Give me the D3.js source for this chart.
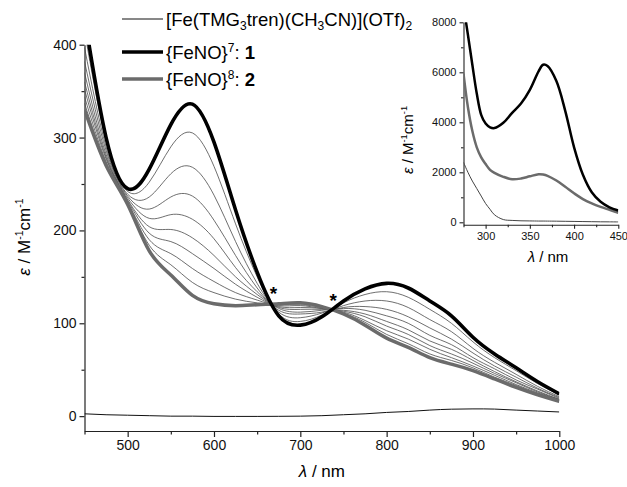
<!DOCTYPE html>
<html>
<head>
<meta charset="utf-8">
<script src="https://cdn.jsdelivr.net/npm/d3@7"></script>
<style>
  body { margin: 0; background: #fff; }
  svg { font-family: "Liberation Sans", Arial, sans-serif; }
</style>
</head>
<body>
<div id="chart"></div>
<script>
// Main spectra (wavelength grid, nm)
const nm = [450, 475, 500, 525, 550, 575, 600, 625, 650, 675, 700, 725, 750, 775, 800, 825, 850, 875, 900, 925, 950, 975, 1000];

// {FeNO}7 : 1
const complex1 = [430, 300, 245, 266, 314, 336, 295, 222, 155, 108, 98, 107, 124, 137, 143, 138, 124, 108, 85, 67, 52, 37, 24];
// {FeNO}8 : 2
const complex2 = [330, 270, 228, 178, 152, 130, 121, 119, 120, 121, 122, 118, 110, 98, 84, 74, 63, 56, 49, 40, 31, 23, 16];
// [Fe(TMG3tren)(CH3CN)](OTf)2
const precursor = [2.5, 1.5, 1, 0.5, 0, 0, -0.3, -0.3, -0.3, -0.2, 0, 0.5, 1.5, 2.5, 4, 5, 6.5, 7.5, 7.8, 7.6, 6.5, 5.5, 4.5];

// intermediate spectra during the reduction
const mid1 = [415, 296, 242, 252, 290, 305, 269, 207, 150, 110, 102, 109, 122, 131, 134, 128, 115, 100, 80, 63, 49, 35, 23];
const mid2 = [397, 290, 239, 236, 261, 268, 238, 188, 143, 112, 106, 111, 119, 124, 124, 117, 104, 91, 73, 58, 45, 32, 21];
const mid3 = [382, 286, 237, 223, 236, 237, 211, 173, 138, 114, 110, 112, 117, 118, 115, 107, 95, 83, 68, 54, 42, 30, 20];
const mid4 = [370, 282, 235, 213, 217, 212, 191, 160, 134, 116, 112, 114, 116, 114, 108, 100, 87, 77, 63, 51, 39, 29, 19];
const mid5 = [360, 279, 233, 204, 201, 192, 173, 150, 131, 117, 115, 115, 114, 110, 102, 93, 81, 72, 60, 48, 37, 27, 18];
const mid6 = [352, 277, 232, 197, 188, 175, 159, 142, 128, 118, 117, 116, 113, 107, 97, 88, 76, 67, 57, 46, 36, 26, 18];
const mid7 = [344, 274, 230, 190, 175, 159, 145, 133, 125, 119, 119, 116, 112, 103, 92, 83, 72, 63, 54, 44, 34, 25, 17];
const mid8 = [337, 272, 229, 184, 163, 144, 133, 126, 122, 120, 120, 117, 111, 101, 88, 78, 67, 60, 52, 42, 33, 24, 17];
const intermediates = [mid1, mid2, mid3, mid4, mid5, mid6, mid7, mid8];

// Inset spectra (UV region)
const nmInset = [275, 280, 285, 290, 295, 300, 305, 310, 320, 330, 340, 350, 360, 365, 370, 380, 390, 400, 410, 420, 430, 440, 450];
const inset1 = [8650, 7500, 6300, 5150, 4300, 3950, 3800, 3770, 3980, 4380, 4750, 5300, 6050, 6300, 6250, 5650, 4460, 3000, 1900, 1200, 820, 600, 470];
const inset2 = [5950, 4600, 3650, 3000, 2600, 2330, 2100, 1980, 1820, 1720, 1750, 1840, 1920, 1910, 1860, 1670, 1420, 1160, 930, 760, 620, 500, 380];
const insetPre = [2400, 2000, 1650, 1350, 1050, 750, 520, 300, 110, 75, 60, 55, 50, 50, 48, 45, 40, 35, 30, 25, 20, 18, 15];

// ticks
const xTicks = [500, 600, 700, 800, 900, 1000];
const xMinor = [450, 550, 650, 750, 850, 950];
const yTicks = [0, 100, 200, 300, 400];
const yMinor = [50, 150, 250, 350];
const xTicksInset = [300, 350, 400, 450];
const xMinorInset = [275, 325, 375, 425];
const yTicksInset = [0, 2000, 4000, 6000, 8000];
const yMinorInset = [1000, 3000, 5000, 7000];

// isosbestic point markers
const stars = [[669, 125], [738, 118]];

let width = 627, height = 487;

let svg = d3.select("#chart")
    .append('svg')
    .attr('width', width)
    .attr('height', height);

// Main scales
let x = d3.scaleLinear().domain([450, 1000]).range([84.5, 559.3]);
let y = d3.scaleLinear().domain([-16, 400]).range([431, 44.7]);

svg.append('clipPath').attr('id', 'clipMain')
    .append('rect')
    .attr('x', x(450)).attr('y', y(400))
    .attr('width', x(1000) - x(450)).attr('height', y(-16) - y(400));

// Axes
svg.append('g')
    .attr('transform', `translate(0,${y(-16)})`)
    .call(d3.axisBottom(x).tickValues(xTicks).tickSize(6).tickSizeOuter(0).tickFormat(d3.format('d')));
svg.append('g')
    .attr('transform', `translate(0,${y(-16)})`)
    .call(d3.axisBottom(x).tickValues(xMinor).tickSize(3.5).tickFormat(''))
    .select('.domain').remove();

svg.append('g')
    .attr('transform', `translate(${x(450)},0)`)
    .call(d3.axisLeft(y).tickValues(yTicks).tickSize(5).tickSizeOuter(0).tickFormat(d3.format('d')));
svg.append('g')
    .attr('transform', `translate(${x(450)},0)`)
    .call(d3.axisLeft(y).tickValues(yMinor).tickSize(3).tickFormat(''))
    .select('.domain').remove();

svg.selectAll('.tick text')
    .attr('font-size', 14)
    .attr('font-family', '"Liberation Sans", Arial, sans-serif')
    .attr('fill', '#111');
svg.selectAll('.domain, .tick line').attr('stroke', '#222').attr('stroke-width', 1.2);

// Axis labels
let xLabel = svg.append('text')
    .attr('x', (x(450) + x(1000)) / 2)
    .attr('y', 477)
    .attr('text-anchor', 'middle')
    .attr('font-size', 17);
xLabel.append('tspan').attr('font-style', 'italic').text('λ');
xLabel.append('tspan').text(' / nm');

function epsLabel(g, size) {
    g.append('tspan').attr('font-style', 'italic').text('ε');
    g.append('tspan').text(' / M');
    g.append('tspan').attr('dy', -size * 0.4).attr('font-size', size * 0.62).text('-1');
    g.append('tspan').attr('dy', size * 0.4).text('cm');
    g.append('tspan').attr('dy', -size * 0.4).attr('font-size', size * 0.62).text('-1');
}

let yLabel = svg.append('text')
    .attr('transform', 'translate(30,237) rotate(-90)')
    .attr('text-anchor', 'middle')
    .attr('font-size', 17);
epsLabel(yLabel, 17);

// Lines
let line = d3.line()
    .x(d => x(d[0]))
    .y(d => y(d[1]))
    .curve(d3.curveNatural);

let curves = svg.append('g').attr('clip-path', 'url(#clipMain)');

intermediates.forEach(function(series) {
    curves.append('path')
        .datum(nm.map((w, i) => [w, series[i]]))
        .attr('d', line)
        .attr('fill', 'none')
        .attr('stroke', '#4a4a4a')
        .attr('stroke-width', 0.8);
});

curves.append('path')
    .datum(nm.map((w, i) => [w, complex2[i]]))
    .attr('d', line)
    .attr('fill', 'none')
    .attr('stroke', '#6b6b6b')
    .attr('stroke-width', 3.5);

curves.append('path')
    .datum(nm.map((w, i) => [w, complex1[i]]))
    .attr('d', line)
    .attr('fill', 'none')
    .attr('stroke', '#000')
    .attr('stroke-width', 3.6);

curves.append('path')
    .datum(nm.map((w, i) => [w, precursor[i]]))
    .attr('d', line)
    .attr('fill', 'none')
    .attr('stroke', '#111')
    .attr('stroke-width', 1);

// isosbestic stars
stars.forEach(function(s) {
    svg.append('text')
        .attr('x', x(s[0]))
        .attr('y', y(s[1]))
        .attr('text-anchor', 'middle')
        .attr('font-size', 19)
        .attr('font-weight', 'bold')
        .text('*');
});

// Legend
let legend = svg.append('g');
let legendRows = [
    { y: 19, stroke: '#111', w: 1 },
    { y: 52, stroke: '#000', w: 3.6 },
    { y: 79, stroke: '#6b6b6b', w: 3.5 }
];
legendRows.forEach(function(r) {
    legend.append('line')
        .attr('x1', 122).attr('x2', 163)
        .attr('y1', r.y).attr('y2', r.y)
        .attr('stroke', r.stroke)
        .attr('stroke-width', r.w);
});

let t1 = legend.append('text').attr('x', 166).attr('y', 25.5).attr('font-size', 18.5);
t1.append('tspan').text('[Fe(TMG');
t1.append('tspan').attr('dy', 4).attr('font-size', 12).text('3');
t1.append('tspan').attr('dy', -4).text('tren)(CH');
t1.append('tspan').attr('dy', 4).attr('font-size', 12).text('3');
t1.append('tspan').attr('dy', -4).text('CN)](OTf)');
t1.append('tspan').attr('dy', 4).attr('font-size', 12).text('2');

[['7', '1', 58.5], ['8', '2', 85.5]].forEach(function(r) {
    let t = legend.append('text').attr('x', 166).attr('y', r[2]).attr('font-size', 18.5);
    t.append('tspan').text('{FeNO}');
    t.append('tspan').attr('dy', -7).attr('font-size', 12).text(r[0]);
    t.append('tspan').attr('dy', 7).text(': ');
    t.append('tspan').attr('font-weight', 'bold').text(r[1]);
});

// Inset
let xi = d3.scaleLinear().domain([275, 450]).range([463.5, 618.3]);
let yi = d3.scaleLinear().domain([-100, 8000]).range([224.8, 22.3]);

svg.append('clipPath').attr('id', 'clipInset')
    .append('rect')
    .attr('x', xi(275)).attr('y', yi(8000))
    .attr('width', xi(450) - xi(275)).attr('height', yi(-100) - yi(8000));

let inset = svg.append('g');
inset.append('g')
    .attr('transform', `translate(0,${yi(-100)})`)
    .call(d3.axisBottom(xi).tickValues(xTicksInset).tickSize(4).tickSizeOuter(0).tickFormat(d3.format('d')));
inset.append('g')
    .attr('transform', `translate(0,${yi(-100)})`)
    .call(d3.axisBottom(xi).tickValues(xMinorInset).tickSize(2.5).tickFormat(''))
    .select('.domain').remove();
inset.append('g')
    .attr('transform', `translate(${xi(275)},0)`)
    .call(d3.axisLeft(yi).tickValues(yTicksInset).tickSize(4).tickSizeOuter(0).tickFormat(d3.format('d')));
inset.append('g')
    .attr('transform', `translate(${xi(275)},0)`)
    .call(d3.axisLeft(yi).tickValues(yMinorInset).tickSize(2.5).tickFormat(''))
    .select('.domain').remove();

inset.selectAll('.tick text')
    .attr('font-size', 11)
    .attr('font-family', '"Liberation Sans", Arial, sans-serif')
    .attr('fill', '#111');
inset.selectAll('.domain, .tick line').attr('stroke', '#222').attr('stroke-width', 1.1);

let xiLabel = inset.append('text')
    .attr('x', 548)
    .attr('y', 262)
    .attr('text-anchor', 'middle')
    .attr('font-size', 15);
xiLabel.append('tspan').attr('font-style', 'italic').text('λ');
xiLabel.append('tspan').text(' / nm');

let yiLabel = inset.append('text')
    .attr('transform', 'translate(413,140) rotate(-90)')
    .attr('text-anchor', 'middle')
    .attr('font-size', 15);
epsLabel(yiLabel, 15);

let lineInset = d3.line()
    .x(d => xi(d[0]))
    .y(d => yi(d[1]))
    .curve(d3.curveCatmullRom.alpha(0.5));

let insetCurves = inset.append('g').attr('clip-path', 'url(#clipInset)');
[[insetPre, '#444', 1], [inset2, '#6b6b6b', 2.5], [inset1, '#000', 2.5]].forEach(function(s) {
    insetCurves.append('path')
        .datum(nmInset.map((w, i) => [w, s[0][i]]))
        .attr('d', lineInset)
        .attr('fill', 'none')
        .attr('stroke', s[1])
        .attr('stroke-width', s[2]);
});
</script>
</body>
</html>
